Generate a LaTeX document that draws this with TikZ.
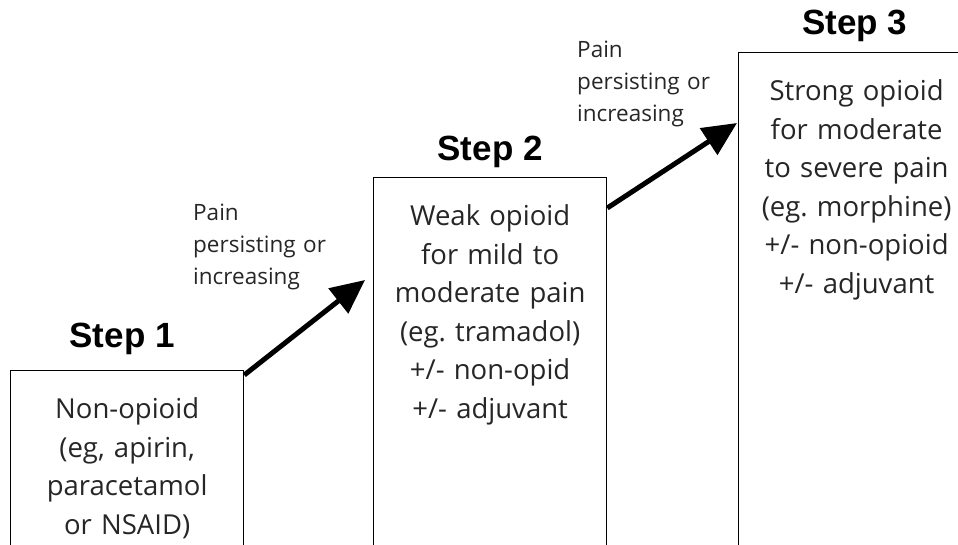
\documentclass[tikz,border=0pt]{standalone}
\usepackage{fontspec}
\setmainfont{Open Sans}
\newfontfamily\titlefont{Liberation Sans}
\usetikzlibrary{arrows.meta}
\frenchspacing

\begin{document}
\begin{tikzpicture}[x=1pt, y=-1pt]
		\tikzstyle{box}=[
		draw,
		rectangle,
		anchor=north west,
		line width=1.3pt,
		inner sep=0pt,
		align=center,
		text width=233pt,
		text height=48pt,
		text depth=520pt,
		text=black!85,
		font=\fontsize{27.5}{38.5}\selectfont]
		\tikzstyle{title}=[
		anchor=base,
		inner sep=0pt,
		font=\titlefont\bfseries\fontsize{35}{40}\selectfont]
		\tikzstyle{remark}=[
		anchor=north west,
		inner sep=0pt,
		align=left,
		text width=160pt,
		text height=16pt,
		text=black!85,
		font=\fontsize{22.5}{32}\selectfont]
		\tikzstyle{step_arrow}=[
		line width=5pt,
		-{Triangle[length=34pt,width=31pt]}]
		%
		\useasboundingbox (0,0) rectangle (958,545);
		\clip (0,0) rectangle (958,545);
		%
		\node[box] (S1) at (10,370) {Non-opioid\\(eg, apirin,\\paracetamol\\or NSAID)};
		\node[box] (S2) at (373,177) {Weak opioid\\for mild to\\moderate pain\\(eg. tramadol)\\+/- non-opid\\+/- adjuvant};
		\node[box, text width=236pt] (S3) at (738,52) {Strong opioid\\for moderate\\to severe pain\\(eg. morphine)\\+/- non-opioid\\+/- adjuvant};
		%
		\node[title] (T1) at ([xshift=-5pt, yshift=23pt]S1.north) {Step 1};
		\node[title] (T2) at ([yshift=16pt]S2.north) {Step 2};
		\node[title] (T3) at ([xshift=-2pt, yshift=17pt]S3.north) {Step 3};
		%
		\draw[step_arrow] ([yshift=-5pt]S1.north east) -- ([xshift=-8pt, yshift=-103pt]S2.north west);
		\draw[step_arrow] ([yshift=-31pt]S2.north east) -- ([xshift=-1pt, yshift=-71pt]S3.north west);
		%
		\node[remark] (P1) at (193,204) {Pain\\persisting or\\increasing};
		\node[remark] (P2) at (577,41) {Pain\\persisting or\\increasing};
	\end{tikzpicture}
\end{document}
